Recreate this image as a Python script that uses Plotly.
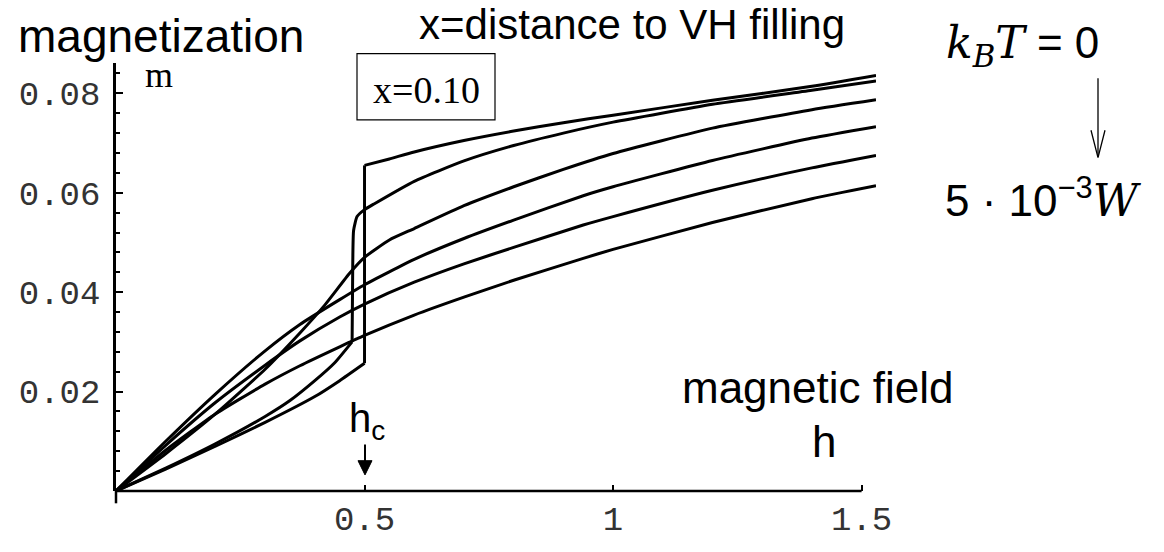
import plotly.graph_objects as go

# ---------------- data ----------------
# field h (x) and magnetization m (y); six temperatures kT = 0 ... 5e-3 W
t0_low_h = [0.0, 0.1, 0.2, 0.3, 0.4, 0.45, 0.5]
t0_low_m = [0.0, 0.0044, 0.0090, 0.0138, 0.0190, 0.0222, 0.0257]
t0_jump_h = [0.5, 0.5]
t0_jump_m = [0.0257, 0.0655]
t0_high_h = [0.5, 0.55, 0.6, 0.7, 0.8, 0.9, 1.0, 1.2, 1.4, 1.529]
t0_high_m = [0.0655, 0.0668, 0.0682, 0.0705, 0.0724, 0.0741, 0.0756, 0.0786, 0.0814, 0.0836]

c2_low_h = [0.0, 0.1, 0.2, 0.3, 0.35, 0.4, 0.44, 0.475]
c2_low_m = [0.0, 0.0046, 0.0095, 0.0150, 0.0182, 0.0222, 0.0258, 0.0300]
c2_high_h = [0.475, 0.476, 0.478, 0.485, 0.5, 0.52, 0.6, 0.7, 0.8, 0.9, 1.0, 1.2, 1.4, 1.529]
c2_high_m = [0.0300, 0.0420, 0.0524, 0.0552, 0.0566, 0.0578, 0.0623, 0.0664, 0.0695, 0.0720, 0.0742, 0.0778, 0.0806, 0.0825]

c3_h = [0.0, 0.1, 0.2, 0.3, 0.37, 0.42, 0.47, 0.5, 0.55, 0.6, 0.7, 0.8, 0.9, 1.0, 1.2, 1.4, 1.529]
c3_m = [0.0, 0.0075, 0.0155, 0.0245, 0.0318, 0.0374, 0.0438, 0.0470, 0.0505, 0.0528, 0.0574, 0.0612, 0.0647, 0.0679, 0.0730, 0.0767, 0.0787]

c4_h = [0.0, 0.1, 0.2, 0.3, 0.37, 0.45, 0.5, 0.6, 0.7, 0.8, 0.94, 1.0, 1.2, 1.4, 1.529]
c4_m = [0.0, 0.0100, 0.0195, 0.0282, 0.0335, 0.0385, 0.0415, 0.0466, 0.0508, 0.0545, 0.0594, 0.0612, 0.0665, 0.0710, 0.0733]

c5_h = [0.0, 0.1, 0.2, 0.3, 0.37, 0.45, 0.5, 0.6, 0.7, 0.8, 0.94, 1.0, 1.2, 1.4, 1.529]
c5_m = [0.0, 0.0092, 0.0178, 0.0253, 0.0302, 0.0350, 0.0376, 0.0420, 0.0457, 0.0490, 0.0535, 0.0552, 0.0605, 0.0650, 0.0675]

c6_h = [0.0, 0.1, 0.2, 0.3, 0.37, 0.45, 0.5, 0.6, 0.7, 0.8, 0.94, 1.0, 1.2, 1.4, 1.529]
c6_m = [0.0, 0.0082, 0.0155, 0.0215, 0.0252, 0.0290, 0.0313, 0.0354, 0.0390, 0.0424, 0.0468, 0.0486, 0.0540, 0.0588, 0.0614]

x_ticks = [0.5, 1.0, 1.5]
x_tick_labels = ["0.5", "1", "1.5"]
y_ticks = [0.02, 0.04, 0.06, 0.08]
y_tick_labels = ["0.02", "0.04", "0.06", "0.08"]

# ---------------- layout geometry ----------------
W, H = 1164, 552
L, R, T, B = 116, 876, 63, 515
X_MAX = 1.529
Y_MAX = 0.0861


def px(x):
    return (x - L) / (R - L)


def py(y):
    return (B - y) / (B - T)


fig = go.Figure()

spline = dict(color="black", width=3, shape="spline", smoothing=0.5)
linear = dict(color="black", width=3, shape="linear")

series = [
    (t0_low_h, t0_low_m, spline),
    (t0_jump_h, t0_jump_m, linear),
    (t0_high_h, t0_high_m, spline),
    (c2_low_h, c2_low_m, spline),
    (c2_high_h, c2_high_m, spline),
    (c3_h, c3_m, spline),
    (c4_h, c4_m, spline),
    (c5_h, c5_m, spline),
    (c6_h, c6_m, spline),
]
for hx, my, ln in series:
    fig.add_trace(go.Scatter(x=hx, y=my, mode="lines", line=ln,
                             hoverinfo="skip", showlegend=False))

tickfont = dict(family="Liberation Mono, Courier New, monospace", size=34, color="#333")

fig.update_layout(
    width=W, height=H,
    margin=dict(l=L, r=W - R, t=T, b=H - B, pad=0),
    paper_bgcolor="white", plot_bgcolor="white",
    showlegend=False,
    xaxis=dict(range=[0, X_MAX], showgrid=False, zeroline=False, showline=False,
               tickmode="array", tickvals=x_ticks, ticktext=x_tick_labels,
               ticks="inside", ticklen=6, tickwidth=2, tickcolor="black",
               tickfont=tickfont, ticklabelstandoff=4),
    yaxis=dict(range=[0, Y_MAX], showgrid=False, zeroline=False, showline=True,
               linecolor="black", linewidth=2.5,
               tickmode="array", tickvals=y_ticks, ticktext=y_tick_labels,
               ticks="inside", ticklen=7, tickwidth=2, tickcolor="black",
               minor=dict(ticks="inside", ticklen=4, tickwidth=1.5, tickcolor="black",
                          tickmode="linear", tick0=0, dtick=0.004),
               tickfont=tickfont, ticklabelstandoff=6),
)

shapes = []
# x axis line (ends at h = 1.5)
shapes.append(dict(type="line", xref="x", yref="paper", x0=0, x1=1.5, y0=0, y1=0,
                   line=dict(color="black", width=2.5)))
# y axis small extension below origin
shapes.append(dict(type="line", xref="paper", yref="paper", x0=0, x1=0, y0=0, y1=py(528),
                   line=dict(color="black", width=2.5)))
# box around x=0.10
shapes.append(dict(type="rect", xref="paper", yref="paper",
                   x0=px(357), x1=px(495), y0=py(123), y1=py(53),
                   line=dict(color="black", width=1.2)))
# h_c arrow
shapes.append(dict(type="line", xref="paper", yref="paper", x0=px(365), x1=px(365),
                   y0=py(466), y1=py(486), line=dict(color="black", width=2)))
shapes.append(dict(type="path", xref="paper", yref="paper",
                   path=f"M{px(358)},{py(483)} L{px(372)},{py(483)} L{px(365)},{py(498)} Z",
                   fillcolor="black", line=dict(color="black", width=1)))
# temperature arrow
shapes.append(dict(type="line", xref="paper", yref="paper", x0=px(1098), x1=px(1098),
                   y0=py(79), y1=py(162), line=dict(color="black", width=1.3)))
shapes.append(dict(type="path", xref="paper", yref="paper",
                   path=f"M{px(1091)},{py(134)} L{px(1098)},{py(163)} L{px(1105)},{py(134)}",
                   line=dict(color="black", width=1.3)))
fig.update_layout(shapes=shapes)

sans = "Liberation Sans, Arial, sans-serif"
serif = "Liberation Serif, Times New Roman, serif"


def ann(text, x, y, size, family=sans, xanchor="center", yanchor="middle"):
    fig.add_annotation(text=text, xref="paper", yref="paper", x=px(x), y=py(y),
                       xanchor=xanchor, yanchor=yanchor, showarrow=False,
                       font=dict(family=family, size=size, color="black"))


ann("magnetization", 16, 34, 46, xanchor="left")
ann("x=distance to VH filling", 632, 22, 42)
ann("magnetic field", 817, 406, 44)
ann("h", 824, 463, 44)
ann("h<sub>c</sub>", 347, 441, 40, xanchor="left")
ann("x=0.10", 426, 91, 38, family=serif)
ann("m", 159, 76, 36, family=serif)
ann('<span style="font-family:DejaVu Serif"><i>k</i><sub><i>B</i></sub><i>T</i></span>'
    '&nbsp;=&nbsp;0',
    1022, 44, 44, family=sans)
ann('5&nbsp;·&nbsp;10<sup>−3</sup><span style="font-family:DejaVu Serif"><i>W</i></span>',
    1043, 206, 44, family=sans)

fig.write_html("out.html")
